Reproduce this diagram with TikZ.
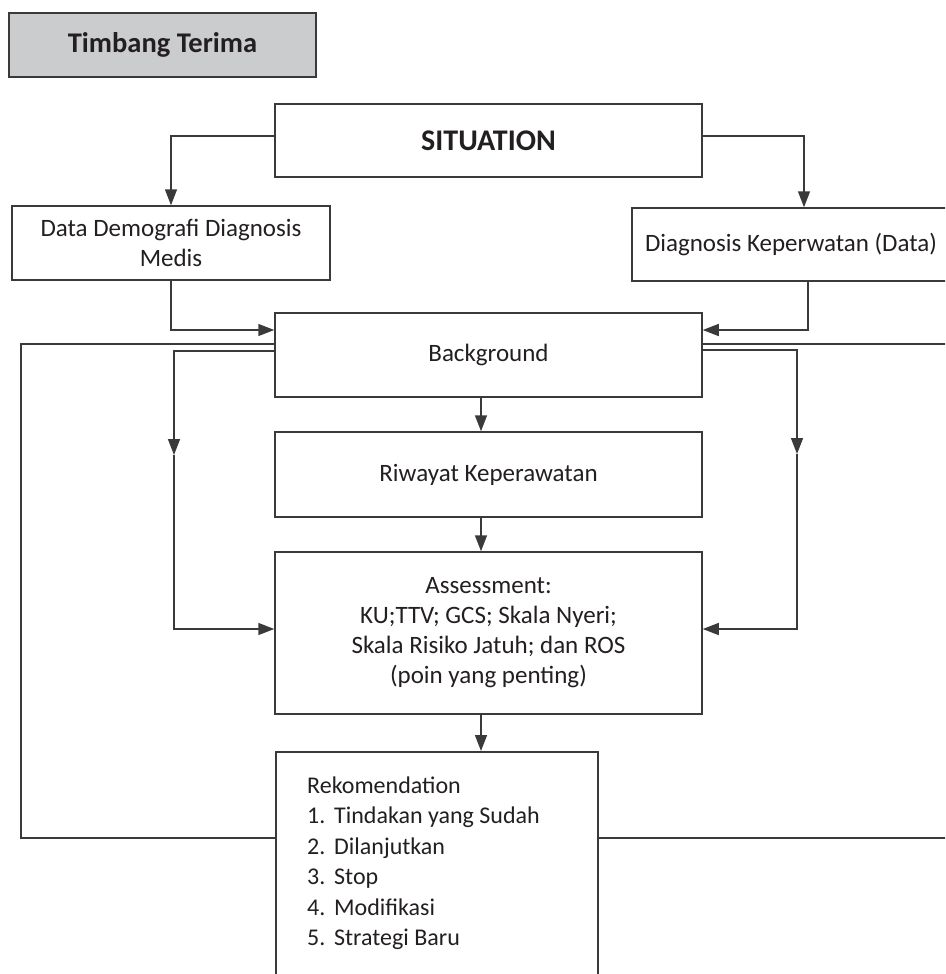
\documentclass[tikz,border=0pt]{standalone}
\usepackage{fontspec}
\setmainfont{Carlito}
\usetikzlibrary{arrows.meta}
\definecolor{ink}{HTML}{231F20}
\definecolor{ln}{HTML}{3A3A3A}
\definecolor{tgray}{HTML}{CBCCCE}
\begin{document}
\begin{tikzpicture}[x=1pt,y=-1pt,
  box/.style={draw=ln, line width=1.5pt, rectangle, inner sep=0pt, text=ink, align=center, font=\fontsize{25}{30}\selectfont},
  conn/.style={draw=ln, line width=1.5pt},
  arr/.style={conn, -{Triangle[length=16pt,width=12pt]}},
  item/.style={anchor=base west, inner sep=0pt, text=ink, font=\fontsize{24}{30}\selectfont}
]
\useasboundingbox (0,0) rectangle (945,974);
\clip (0,0) rectangle (945,974);

\node[box, fill=tgray, minimum width=307pt, minimum height=64pt, font=\bfseries\fontsize{28.5}{34}\selectfont] (title) at (162.5,45) {Timbang Terima};
\node[box, minimum width=427pt, minimum height=73pt, font=\bfseries\fontsize{30}{36}\selectfont] (sit) at (488.5,140.5) {SITUATION};
\node[box, minimum width=318pt, minimum height=74pt] (dd) at (171,243) {Data Demografi Diagnosis\\Medis};
\node[box, minimum width=318pt, minimum height=73pt] (diag) at (791,244.5) {Diagnosis Keperwatan (Data)};
\node[box, minimum width=427pt, minimum height=84pt] (bg) at (488.5,355) {Background};
\node[box, minimum width=427pt, minimum height=85pt] (riw) at (488.5,474.5) {Riwayat Keperawatan};
\node[box, minimum width=427pt, minimum height=162pt] (ass) at (488.5,633) {Assessment:\\KU;TTV; GCS; Skala Nyeri;\\Skala Risiko Jatuh; dan ROS\\(poin yang penting)};
\node[box, minimum width=322pt, minimum height=260pt, anchor=north west] (rek) at (275,751) {};

\node[item] (r0) at (307,793) {Rekomendation};
\node[item] (r1) at (307,823.5) {\makebox[27pt][l]{1.}Tindakan yang Sudah};
\node[item] (r2) at (307,854) {\makebox[27pt][l]{2.}Dilanjutkan};
\node[item] (r3) at (307,884.5) {\makebox[27pt][l]{3.}Stop};
\node[item] (r4) at (307,915) {\makebox[27pt][l]{4.}Modifikasi};
\node[item] (r5) at (307,945.5) {\makebox[27pt][l]{5.}Strategi Baru};

\draw[arr] ([yshift=4.5pt]sit.west) -| (dd.north);
\draw[arr] ([yshift=4.5pt]sit.east) -| ([xshift=13pt]diag.north);
\draw[arr] (dd.south) |- ([yshift=25pt]bg.west);
\draw[arr] ([xshift=17pt]diag.south) |- ([yshift=25pt]bg.east);

\coordinate (lloop) at (21,838);
\coordinate (rloop) at (960,838);
\draw[conn] ([yshift=11pt]bg.west) -| (lloop) -- (lloop -| rek.west);
\draw[conn] ([yshift=11pt]bg.east) -| (rloop) -- (rloop -| rek.east);

\coordinate (lmid) at (174,455);
\coordinate (rmid) at (797,454);
\draw[arr] ([yshift=4pt]bg.west) -| (lmid);
\draw[arr] (lmid) |- ([yshift=4pt]ass.west);
\draw[arr] ([yshift=5pt]bg.east) -| (rmid);
\draw[arr] (rmid) |- ([yshift=4pt]ass.east);

\coordinate (cx) at (481,0);
\draw[arr] (bg.south -| cx) -- (riw.north -| cx);
\draw[arr] (riw.south -| cx) -- (ass.north -| cx);
\draw[arr] (ass.south -| cx) -- (rek.north -| cx);
\end{tikzpicture}
\end{document}
